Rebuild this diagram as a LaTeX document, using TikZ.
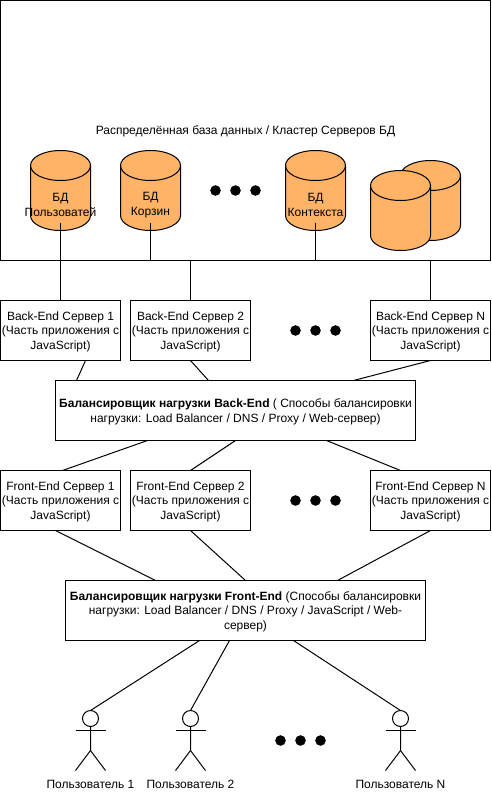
\documentclass[tikz,border=0pt]{standalone}
\usepackage{fontspec}
\setmainfont{Liberation Sans}
\definecolor{dborange}{RGB}{255,179,102}
\tikzstyle{srvbox} = [draw, fill=white, line width=1pt, minimum width=120pt, minimum height=60pt, inner sep=0pt, outer sep=0pt, align=center, text depth=0pt]
\tikzstyle{lbbox} = [draw, fill=white, line width=1pt, minimum width=360pt, minimum height=60pt, inner sep=0pt, outer sep=0pt, align=center, text depth=0pt]
\tikzstyle{dbcyl} = [minimum width=60pt, minimum height=80pt, inner sep=0pt, outer sep=0pt]
\tikzstyle{dbskin} = [draw, fill=dborange, line width=1pt]
\tikzstyle{txt} = [inner sep=0pt, align=center]
\tikzstyle{conn} = [line width=1pt]

\newcommand{\dbdraw}[3]{
    \node[dbcyl] (#1) at (#2,#3) {};
    \draw[dbskin] (#2-30,#3-25) -- (#2-30,#3+25) arc (180:360:30pt and 15pt) -- (#2+30,#3-25) arc (0:180:30pt and 15pt) -- cycle;
    \draw[line width=1pt] (#2-30,#3-25) arc (180:360:30pt and 15pt);
}

\begin{document}
\begin{tikzpicture}[x=1pt, y=-1pt, font=\fontsize{12}{14.4}\selectfont]
    \useasboundingbox (-0.5,-0.5) rectangle (490.5,803.5);

    % Database cluster
    \node[draw, line width=1pt, minimum width=490pt, minimum height=260pt, inner sep=0pt, outer sep=0pt, anchor=north west] (cluster) at (0,0) {};
    \node[txt] (clustertitle) at (245,131) {Распределённая база данных / Кластер Серверов БД};

    \dbdraw{dbusers}{60}{190}
    \dbdraw{dbcart}{150}{190}
    \dbdraw{dbctx}{315}{190}
    \dbdraw{dbback}{430}{200}
    \dbdraw{dbfront}{400}{210}
    \node[txt] (dbuserstxt) at (60,204.5) {БД\\Пользоватей};
    \node[txt] (dbcarttxt) at (150,204.5) {БД\\Корзин};
    \node[txt] (dbctxtxt) at (315,204.5) {БД\\Контекста};

    % Servers
    \foreach \id/\x/\n in {1/60/1, 2/190/2, 3/430/N} {
        \node[srvbox] (be\id) at (\x,330) {Back-End Сервер \n\\(Часть приложения с\\JavaScript)};
        \node[srvbox] (fe\id) at (\x,500) {Front-End Сервер \n\\(Часть приложения с\\JavaScript)};
    }

    % Balancers
    \node[lbbox] (lbbe) at (235,410) {\textbf{Балансировщик нагрузки Back-End} ( Способы балансировки\\нагрузки: Load Balancer / DNS / Proxy / Web-сервер)};
    \node[lbbox] (lbfe) at (245,610) {\textbf{Балансировщик нагрузки Front-End} (Способы балансировки\\нагрузки: Load Balancer / DNS / Proxy / JavaScript / Web-\\сервер)};

    % Users
    \foreach \id/\x/\n in {1/90/1, 2/190/2, 3/400/N} {
        \node[draw, circle, line width=1pt, minimum size=16pt, inner sep=0pt, outer sep=0pt] (head\id) at (\x,718) {};
        \draw[line width=1pt] (head\id.south) -- (\x,750) -- (\x-15,770);
        \draw[line width=1pt] (\x,750) -- (\x+15,770);
        \draw[line width=1pt] (\x-15,730) -- (\x+15,730);
        \node[txt] (user\id) at (\x,784) {Пользователь \n};
    }

    % Dots
    \foreach \cx/\cy in {235/190, 315/330, 315/500, 300/740} {
        \foreach \dx in {-20,0,20} {
            \fill (\cx+\dx,\cy) circle (5.3);
        }
    }

    % Links
    \draw[conn] ([yshift=8pt]dbusers.south) -- (be1.north);
    \draw[conn] ([yshift=8pt]dbcart.south) -- (dbcart.south |- cluster.south);
    \draw[conn] ([yshift=8pt]dbctx.south) -- (dbctx.south |- cluster.south);
    \draw[conn] (be2.north |- cluster.south) -- (be2.north);
    \draw[conn] (be3.north |- cluster.south) -- (be3.north);

    \draw[conn] ([xshift=25pt]be1.south) -- ([xshift=-159pt]lbbe.north);
    \draw[conn] (be2.south) -- ([xshift=-27pt]lbbe.north);
    \draw[conn] (be3.south) -- ([xshift=118pt]lbbe.north);

    \draw[conn] ([xshift=-88pt]lbbe.south) -- ([xshift=2pt]fe1.north);
    \draw[conn] (lbbe.south) -- (fe2.north);
    \draw[conn] ([xshift=91pt]lbbe.south) -- ([xshift=-30pt]fe3.north);

    \draw[conn] ([xshift=-5pt]fe1.south) -- ([xshift=-90pt]lbfe.north);
    \draw[conn] (fe2.south) -- (lbfe.north);
    \draw[conn] (fe3.south) -- ([xshift=92pt]lbfe.north);

    \draw[conn] ([xshift=-46pt]lbfe.south) -- (head1.north);
    \draw[conn] ([xshift=-16pt]lbfe.south) -- (head2.north);
    \draw[conn] ([xshift=48pt]lbfe.south) -- (head3.north);
\end{tikzpicture}
\end{document}
